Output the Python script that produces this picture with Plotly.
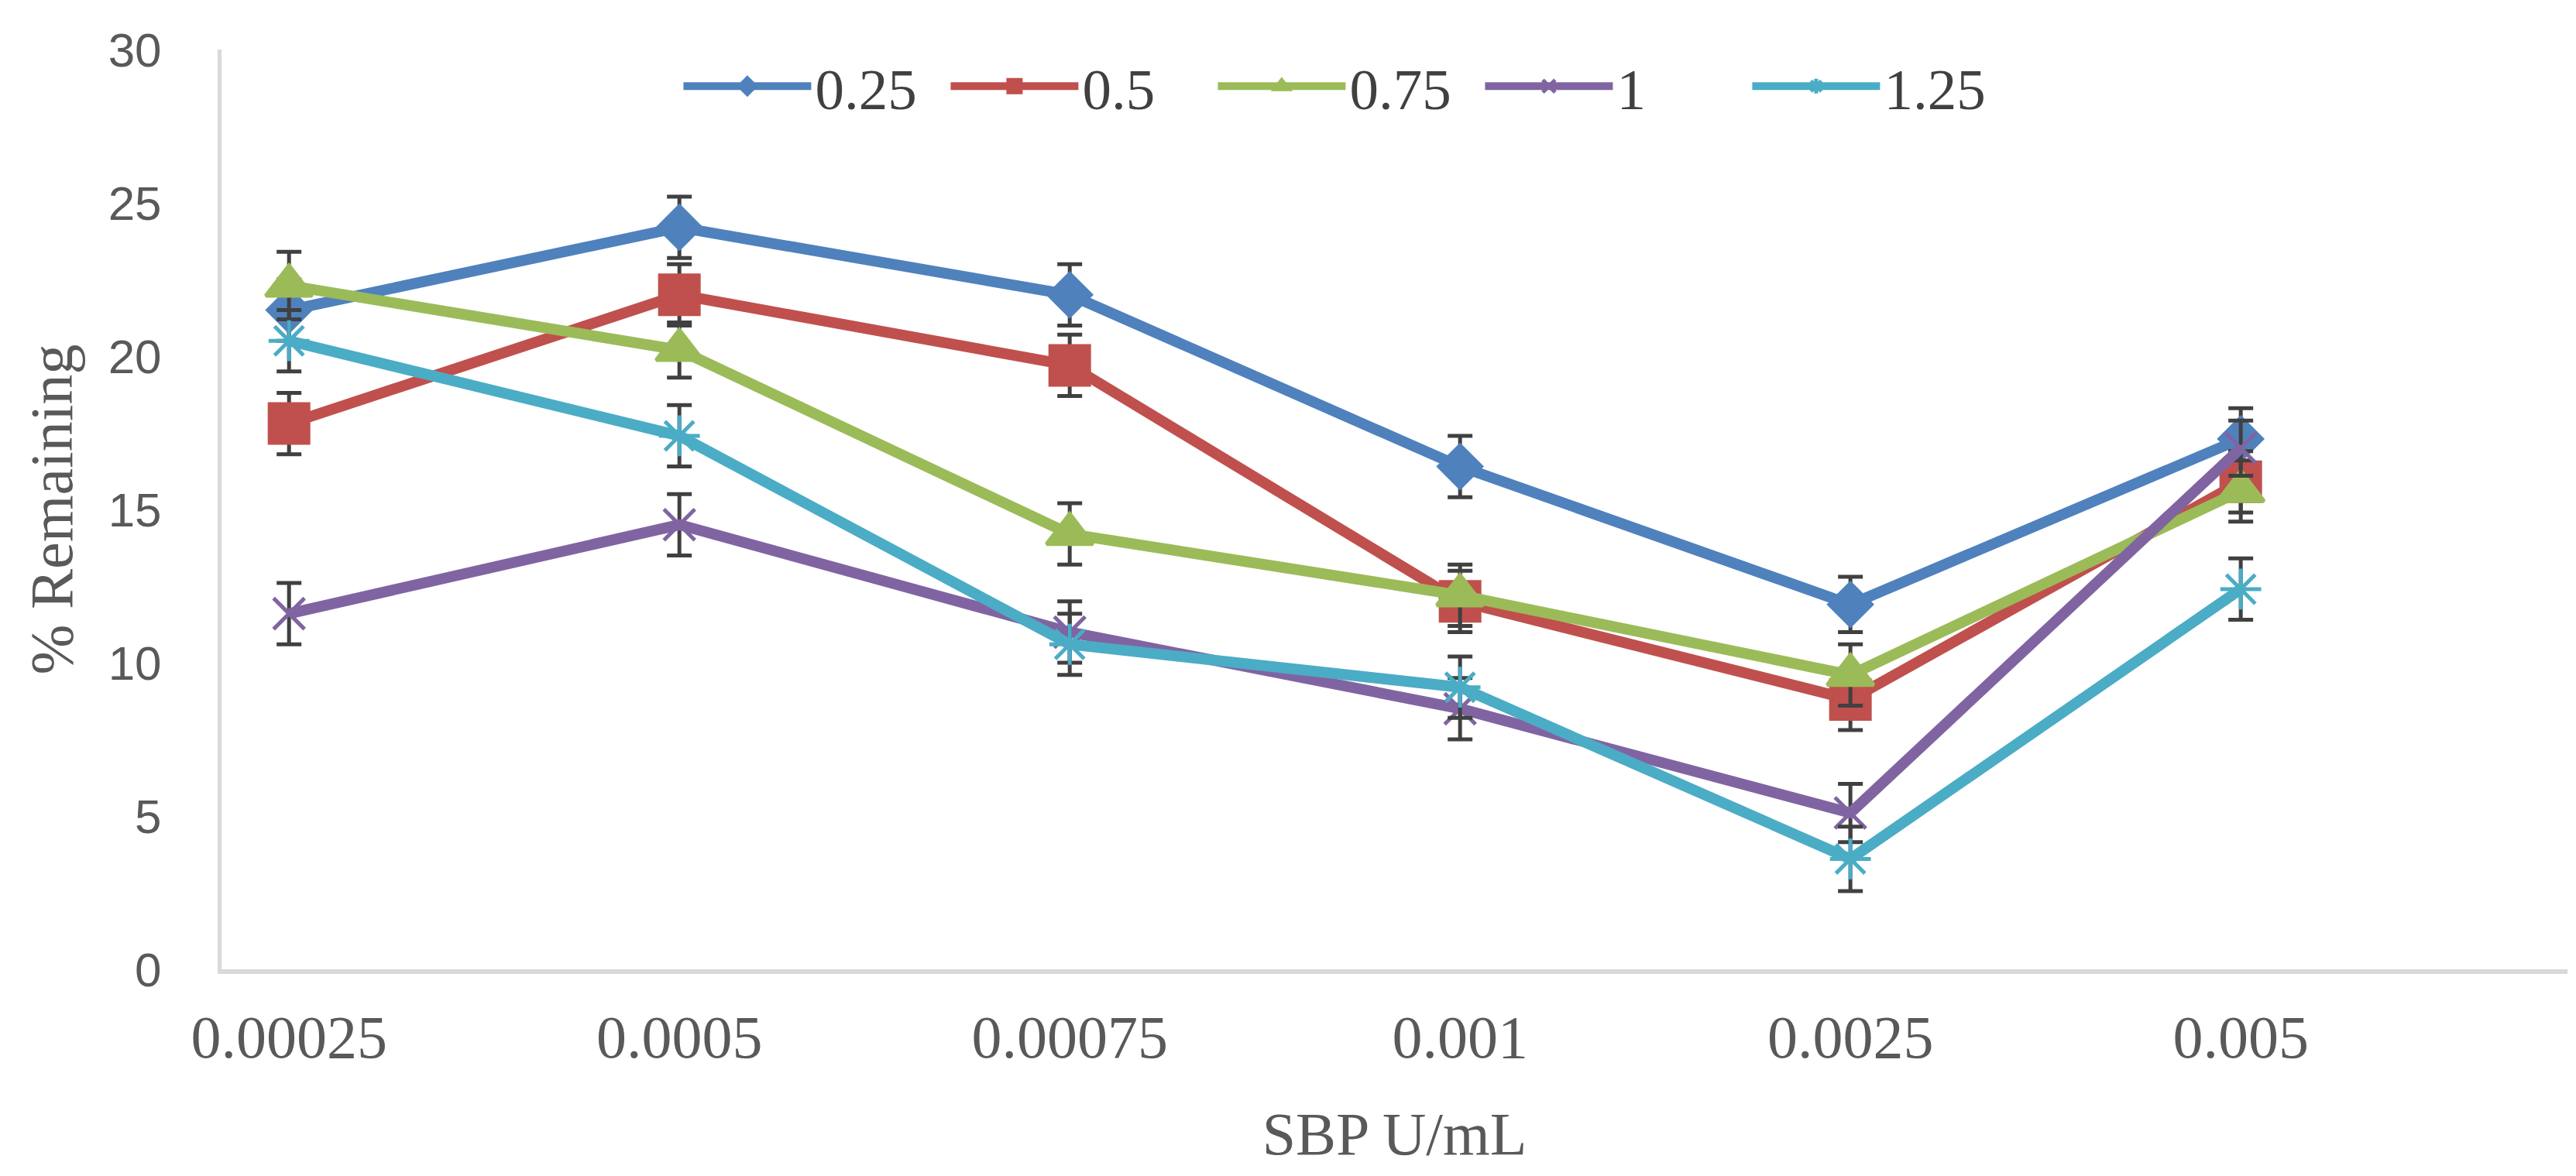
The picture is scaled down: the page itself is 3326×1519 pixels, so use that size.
import plotly.graph_objects as go

# dane z wykresu --------------------------------------------------------------
sbp_labels = ["0.00025", "0.0005", "0.00075", "0.001", "0.0025", "0.005"]

series_names = ["0.25", "0.5", "0.75", "1", "1.25"]

val_025 = [21.5, 24.2, 22.0, 16.4, 11.9, 17.3]
val_05 = [17.8, 22.0, 19.7, 12.0, 8.8, 15.9]
val_075 = [22.3, 20.2, 14.2, 12.2, 9.6, 15.6]
val_1 = [11.6, 14.5, 11.0, 8.5, 5.1, 17.0]
val_125 = [20.5, 17.4, 10.6, 9.2, 3.6, 12.4]

err_025 = [1.0, 1.0, 1.0, 1.0, 0.9, 1.0]
err_05 = [1.0, 1.0, 1.0, 1.0, 1.0, 1.0]
err_075 = [1.1, 0.9, 1.0, 1.0, 1.0, 1.0]
err_1 = [1.0, 1.0, 1.0, 1.0, 0.95, 0.9]
err_125 = [1.0, 1.0, 1.0, 1.0, 1.05, 1.0]

# styl serii ------------------------------------------------------------------
kolory = ["#4F81BD", "#C0504D", "#9BBB59", "#8064A2", "#4BACC6"]
symbole = ["diamond", "square", "triangle-up", "x-thin-open", "asterisk-open"]
rozmiary = [42, 50, 52, 40, 44]

wartosci = [val_025, val_05, val_075, val_1, val_125]
bledy = [err_025, err_05, err_075, err_1, err_125]

fig = go.Figure()

for nazwa, y, e, kol, sym, sz in zip(series_names, wartosci, bledy, kolory, symbole, rozmiary):
    fig.add_trace(go.Scatter(
        x=sbp_labels, y=y,
        mode="lines+markers",
        name=nazwa,
        line=dict(color=kol, width=14),
        marker=dict(symbol=sym, size=sz, color=kol, line=dict(color=kol, width=5)),
        error_y=dict(type="data", array=e, visible=True,
                     color="#404040", thickness=5, width=16),
    ))

szary = "#595959"
szeryf = "Liberation Serif, Times New Roman, serif"

fig.update_layout(
    width=3326, height=1519,
    margin=dict(l=278, r=19, t=56, b=275),
    paper_bgcolor="white",
    plot_bgcolor="white",
    showlegend=True,
    legend=dict(
        orientation="h",
        x=0.48, xanchor="center",
        y=0.96, yanchor="middle",
        font=dict(family=szeryf, size=75, color="#404040"),
        bgcolor="rgba(0,0,0,0)",
        itemwidth=165,
        entrywidth=165,
    ),
    xaxis=dict(
        type="category",
        range=[-0.173, 5.837],
        showgrid=False,
        zeroline=False,
        showline=True,
        linecolor="#D9D9D9",
        linewidth=6,
        ticks="",
        ticklabelstandoff=14,
        tickfont=dict(family=szeryf, size=78, color=szary),
        title=dict(text="SBP U/mL", font=dict(family=szeryf, size=78, color=szary), standoff=57),
    ),
    yaxis=dict(
        range=[0, 30],
        dtick=5,
        showgrid=False,
        zeroline=False,
        showline=True,
        linecolor="#D9D9D9",
        linewidth=5,
        ticks="",
        ticklabelstandoff=60,
        tickfont=dict(family="Liberation Sans, Arial, sans-serif", size=62, color=szary),
        title=dict(text="% Remaining", font=dict(family=szeryf, size=78, color=szary), standoff=22),
    ),
)

fig.write_html("out.html")
